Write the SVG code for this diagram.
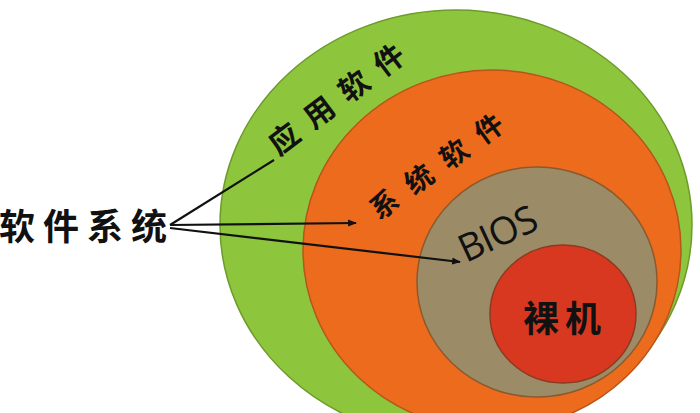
<svg xmlns="http://www.w3.org/2000/svg" width="700" height="413" viewBox="0 0 700 413">
<style>
.cjk{font-family:"Noto Sans CJK SC","Noto Sans CJK TC",sans-serif;font-weight:bold;fill:#111}
.lat{font-family:"Open Sans","Liberation Sans",sans-serif;fill:#111}
.conn{stroke:#111;stroke-width:2.2;fill:none}
</style>
<defs>
<marker id="ah" viewBox="0 0 10 10" refX="9" refY="5" markerWidth="4" markerHeight="4" orient="auto" markerUnits="strokeWidth">
<path d="M0,1 L10,5 L0,9 z" fill="#111"/>
</marker>
</defs>
<rect width="700" height="413" fill="#ffffff"/>
<g id="app">
<ellipse cx="456" cy="225" rx="236" ry="215" fill="#8dc63c" stroke="#6e9a2c" stroke-width="1.5"/>
<text class="cjk" transform="translate(271,146) rotate(-37)" font-size="30" letter-spacing="13.7" dominant-baseline="central">应用软件</text>
</g>
<g id="sys">
<ellipse cx="492" cy="250" rx="189" ry="180" fill="#ec6b1d" stroke="#b5561c" stroke-width="1.5"/>
<text class="cjk" transform="translate(372,211) rotate(-36)" font-size="28" letter-spacing="15" dominant-baseline="central">系统软件</text>
</g>
<g id="bios">
<ellipse cx="537" cy="282" rx="120" ry="115" fill="#9b8b66" stroke="#8a5a2e" stroke-width="1.5"/>
<text class="lat" transform="translate(466,263) rotate(-25)" font-size="38" letter-spacing="-1">BIOS</text>
</g>
<g id="bare">
<ellipse cx="563" cy="314" rx="73" ry="69" fill="#d7381f" stroke="#8e3a22" stroke-width="1.5"/>
<text class="cjk" x="565" y="316" font-size="36" letter-spacing="6" text-anchor="middle" dominant-baseline="central">裸机</text>
</g>
<g id="softsys">
<text class="cjk" x="-1" y="224" font-size="36" letter-spacing="8" dominant-baseline="central">软件系统</text>
</g>
<g id="connectors">
<line class="conn" x1="170" y1="225" x2="274" y2="160"/>
<line class="conn" x1="170" y1="225" x2="356" y2="223" marker-end="url(#ah)"/>
<line class="conn" x1="170" y1="228" x2="460" y2="262" marker-end="url(#ah)"/>
</g>
</svg>
